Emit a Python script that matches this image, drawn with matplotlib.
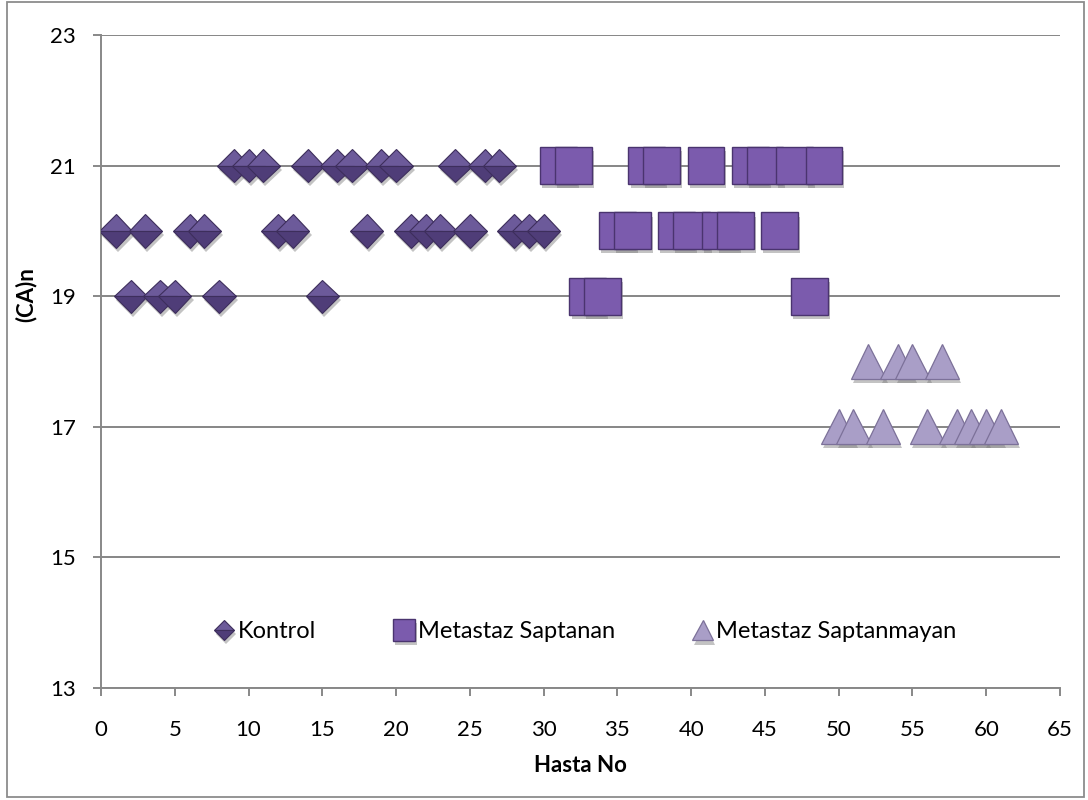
import matplotlib
matplotlib.use("Agg")
import matplotlib.pyplot as plt
import matplotlib.patheffects as pe
from matplotlib.patches import Rectangle

# Patient numbers and (CA)n repeat counts per group
kontrol_no = list(range(1, 31))
kontrol_ca = [20, 19, 20, 19, 19, 20, 20, 19, 21, 21,
              21, 20, 20, 21, 19, 21, 21, 20, 21, 21,
              20, 20, 20, 21, 20, 21, 21, 20, 20, 20]

saptanan_no = list(range(31, 50))
saptanan_ca = [21, 21, 19, 19, 20, 20, 21, 21, 20, 20,
               21, 20, 20, 21, 21, 20, 21, 19, 21]

saptanmayan_no = list(range(50, 62))
saptanmayan_ca = [17, 17, 18, 17, 18, 18, 17, 18, 17, 17, 17, 17]

series_labels = ["Kontrol", "Metastaz Saptanan", "Metastaz Saptanmayan"]
x_ticks = list(range(0, 66, 5))
y_ticks = list(range(13, 24, 2))

plt.rcParams["font.family"] = ["Lato", "DejaVu Sans"]
FS = 16

fig = plt.figure(figsize=(10.88, 8.0), dpi=100)
ax = fig.add_axes([101 / 1088, 1 - 688 / 800, 959 / 1088, 653 / 800])

shadow = [pe.SimplePatchShadow(offset=(1.5, -3), shadow_rgbFace="#7a7a7a", alpha=0.45),
          pe.Normal()]

ax.plot(kontrol_no, kontrol_ca, ls="none", marker="D", ms=17,
        mfc="#6C5A9A", mfcalt="#4F3D78", fillstyle="top",
        mec="#3D2E5C", mew=0.8, label=series_labels[0],
        path_effects=shadow, zorder=3)
ax.plot(saptanan_no, saptanan_ca, ls="none", marker="s", ms=26.5,
        mfc="#7B5BAD", mec="#4A346F", mew=1.0, label=series_labels[1],
        path_effects=shadow, zorder=3)
ax.plot(saptanmayan_no, saptanmayan_ca, ls="none", marker="^", ms=25,
        mfc="#A99EC7", mec="#7C7199", mew=0.9, label=series_labels[2],
        path_effects=shadow, zorder=3)

ax.set_xlim(0, 65)
ax.set_ylim(13, 23)
ax.set_xticks(x_ticks)
ax.set_yticks(y_ticks)
ax.tick_params(axis="x", direction="out", length=6, width=1.4, color="#888888",
               labelsize=FS, pad=17)
ax.tick_params(axis="y", direction="out", length=6, width=1.4, color="#888888",
               labelsize=FS, pad=12)

ax.grid(axis="y", color="#868686", lw=1.4, zorder=1)
ax.set_axisbelow(True)
for side in ("top", "right"):
    ax.spines[side].set_visible(False)
for side in ("left", "bottom"):
    ax.spines[side].set_color("#888888")
    ax.spines[side].set_linewidth(1.4)

ax.set_xlabel("Hasta No", fontsize=FS, fontweight="bold")
ax.xaxis.set_label_coords(0.5, -0.1026)
ax.set_ylabel("(CA)n", fontsize=FS, fontweight="bold")
ax.yaxis.set_label_coords(-0.0667, 0.602)

leg = ax.legend(loc="center", bbox_to_anchor=(0.505, 0.086), ncol=3,
                frameon=False, fontsize=17, markerscale=0.6,
                handlelength=0.85, handletextpad=0.15, columnspacing=3.3)

fig.patches.append(Rectangle((7 / 1088, 3 / 800), 1077 / 1088, 795 / 800,
                             transform=fig.transFigure, fill=False,
                             edgecolor="#8c8c8c", lw=1.3))

fig.savefig("out.png", dpi=100)
